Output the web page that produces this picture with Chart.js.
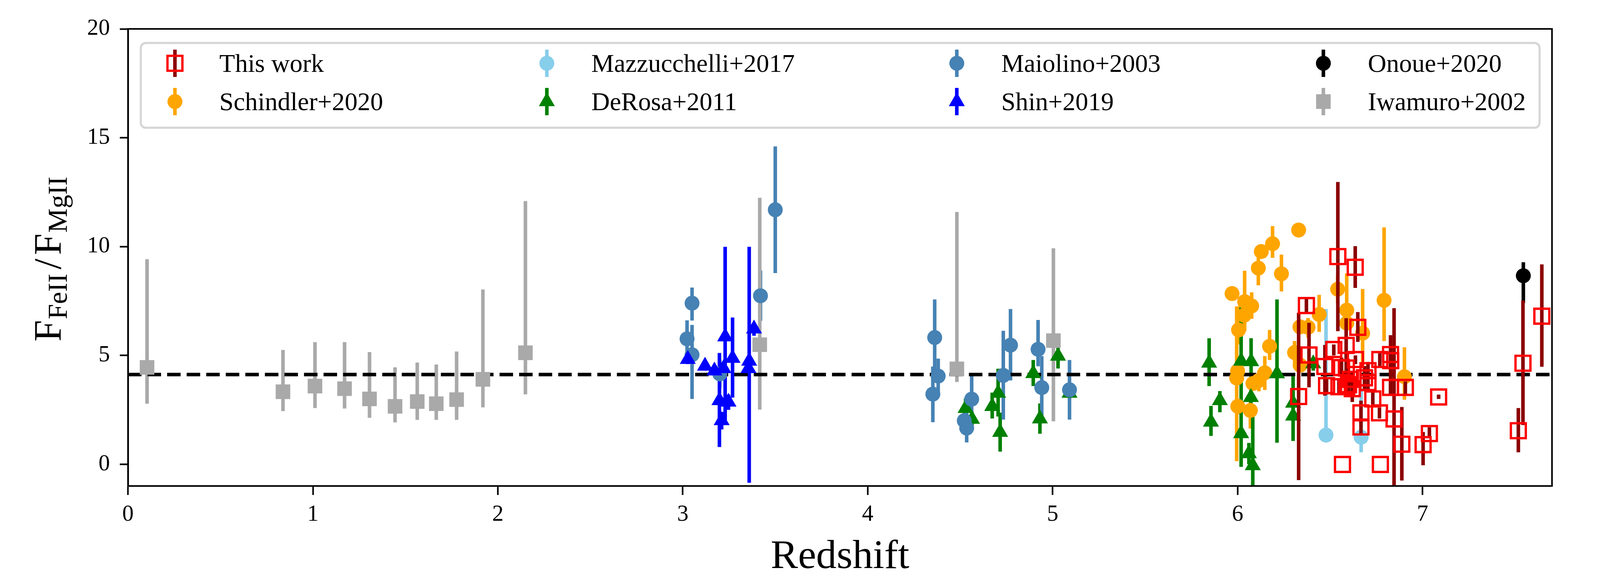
<!DOCTYPE html>
<html>
<head>
<meta charset="utf-8">
<script src="https://cdn.jsdelivr.net/npm/chart.js@4.4.1/dist/chart.umd.min.js"></script>
<style>
  html, body { margin: 0; padding: 0; background: #ffffff; overflow: hidden; }
  canvas { display: block; }
</style>
</head>
<body>
<canvas id="feChart"></canvas>
<script>
// ---- data (redshift, Fe/Mg ratio, lower / upper error bound) ----
const twZ = [6.330, 6.372, 6.386, 6.472, 6.481, 6.520, 6.542, 6.548, 6.562, 6.567, 6.587, 6.588, 6.590, 6.600, 6.610, 6.620, 6.636, 6.637, 6.650, 6.667, 6.667, 6.686, 6.705, 6.705, 6.731, 6.767, 6.769, 6.772, 6.827, 6.828, 6.827, 6.846, 6.888, 6.907, 7.003, 7.037, 7.087, 7.518, 7.543, 7.645];
const twRatio = [3.11, 7.29, 5.02, 4.49, 3.61, 5.27, 9.54, 3.56, 4.44, -0.01, 5.46, 4.42, 3.56, 3.65, 3.90, 3.47, 9.05, 4.81, 6.29, 2.36, 1.71, 3.97, 4.30, 3.75, 3.00, 2.36, 4.81, -0.01, 5.04, 4.76, 3.53, 2.08, 0.92, 3.53, 0.90, 1.41, 3.09, 1.54, 4.64, 6.80];
const twLow = [-0.73, 6.90, 3.53, 3.15, 3.20, 5.00, 6.11, 3.20, 4.00, -0.01, 3.24, 4.10, 3.30, 3.30, 3.60, 2.86, 8.10, 4.60, 5.62, 1.90, 1.38, 3.38, 3.90, 3.40, 2.72, 2.10, 4.50, -0.01, 3.24, 4.50, 3.20, -1.50, -0.75, 3.20, -0.05, 1.20, 3.00, 0.55, 1.80, 4.48];
const twHigh = [6.96, 7.60, 6.50, 5.48, 4.00, 5.50, 12.97, 3.90, 4.90, -0.01, 6.71, 4.70, 3.80, 4.00, 4.20, 4.07, 10.02, 5.00, 6.99, 2.92, 2.00, 4.51, 4.70, 4.10, 3.38, 2.60, 5.10, -0.01, 5.93, 5.00, 3.90, 7.17, 2.63, 3.80, 1.48, 1.70, 3.20, 2.58, 7.52, 9.18];

const scZ = [5.970, 6.038, 6.076, 6.035, 6.005, 6.128, 6.112, 6.189, 6.237, 6.330, 6.173, 6.308, 6.337, 6.381, 6.441, 6.338, 6.000, 5.995, 6.147, 6.083, 6.115, 6.001, 6.069, 6.541, 6.590, 6.590, 6.676, 6.792, 6.902];
const scRatio = [7.84, 7.47, 7.27, 6.84, 6.17, 9.77, 9.01, 10.13, 8.75, 10.76, 5.42, 5.13, 6.31, 6.29, 6.88, 4.55, 4.28, 3.96, 4.20, 3.71, 3.85, 2.66, 2.47, 8.04, 7.08, 6.48, 6.02, 7.53, 4.02];
const scLow = [7.60, 6.11, 6.68, 6.50, 5.50, 9.50, 8.22, 9.48, 7.94, 10.60, 4.79, 4.65, 6.00, 5.82, 6.08, 4.30, 4.00, 0.14, 3.41, 3.40, 3.35, 2.30, 1.64, 7.40, 6.38, 6.20, 4.53, 5.66, 2.96];
const scHigh = [8.10, 8.89, 7.90, 7.20, 7.25, 10.00, 9.48, 10.94, 9.63, 10.90, 6.17, 5.66, 6.60, 6.72, 7.78, 4.80, 4.60, 7.25, 4.97, 4.00, 4.30, 3.00, 3.00, 8.70, 8.77, 6.80, 8.05, 10.88, 5.37];

const mzZ = [6.478, 6.668];
const mzRatio = [1.34, 1.24];
const mzLow = [1.00, 0.55];
const mzHigh = [7.13, 3.42];

const drZ = [4.529, 4.564, 4.673, 4.705, 4.716, 4.895, 4.931, 5.029, 5.091, 5.846, 5.904, 5.856, 6.019, 6.073, 6.213, 6.072, 6.019, 6.061, 6.082, 6.300, 6.300, 6.409];
const drRatio = [2.57, 2.07, 2.66, 3.27, 1.47, 4.17, 2.09, 4.97, 3.27, 4.65, 2.93, 1.94, 4.74, 4.72, 4.16, 3.07, 1.41, 0.49, -0.06, 2.81, 2.22, 4.62];
const drLow = [2.20, 1.70, 2.10, 2.19, 0.58, 3.59, 1.40, 4.40, 3.00, 3.59, 2.39, 1.30, 3.00, 3.47, 0.99, 2.70, -0.12, 0.00, -1.50, 2.30, 1.07, 4.30];
const drHigh = [3.02, 2.40, 3.29, 4.39, 2.37, 4.79, 2.79, 5.59, 3.50, 5.79, 3.36, 2.68, 7.21, 5.79, 7.57, 3.50, 3.00, 0.98, 2.70, 3.30, 4.04, 4.90];

const maZ = [3.023, 3.050, 3.050, 3.200, 3.420, 3.500, 4.362, 4.381, 4.352, 4.562, 4.522, 4.535, 4.733, 4.772, 4.921, 4.941, 5.091];
const maRatio = [5.76, 7.40, 5.03, 4.15, 7.74, 11.69, 5.82, 4.05, 3.22, 2.99, 2.00, 1.66, 4.08, 5.47, 5.28, 3.52, 3.42];
const maLow = [4.90, 6.60, 3.00, 3.50, 6.59, 8.78, 4.20, 3.24, 1.93, 1.90, 1.50, 1.00, 2.05, 3.85, 4.50, 2.19, 2.05];
const maHigh = [6.61, 8.12, 6.40, 4.80, 8.90, 14.60, 7.57, 4.85, 4.49, 4.19, 2.50, 3.02, 6.13, 7.13, 6.63, 4.97, 4.79];

const shZ = [3.027, 3.120, 3.171, 3.229, 3.198, 3.210, 3.247, 3.269, 3.220, 3.359, 3.355, 3.385];
const shRatio = [4.82, 4.51, 4.29, 5.86, 2.93, 2.01, 2.86, 4.87, 4.40, 4.74, 4.40, 6.22];
const shLow = [4.60, 4.30, 4.10, 1.91, 0.79, 1.60, 2.50, 3.06, 4.10, -0.85, 4.20, 5.90];
const shHigh = [5.00, 4.70, 4.50, 9.99, 5.11, 2.40, 3.20, 6.74, 4.70, 9.99, 4.60, 6.50];

const onZ = [7.545];
const onRatio = [8.66];
const onLow = [7.40];
const onHigh = [9.28];

const iwZ = [0.103, 0.838, 1.011, 1.171, 1.306, 1.444, 1.564, 1.667, 1.777, 1.919, 2.149, 3.416, 4.482, 5.004];
const iwRatio = [4.45, 3.33, 3.59, 3.47, 3.00, 2.66, 2.88, 2.78, 2.97, 3.90, 5.12, 5.49, 4.38, 5.68];
const iwLow = [2.78, 2.44, 2.58, 2.56, 2.13, 1.92, 2.04, 2.04, 2.04, 2.61, 3.21, 2.51, 3.78, 1.97];
const iwHigh = [9.42, 5.25, 5.61, 5.61, 5.15, 4.45, 4.67, 4.58, 5.18, 8.03, 12.09, 12.24, 11.59, 9.92];

const meanRatio = [4.12];

const xTicks = [0, 1, 2, 3, 4, 5, 6, 7];
const yTicks = [0, 5, 10, 15, 20];

// legend is 4 columns x 2 rows, filled column by column
const legendOrder = ['This work', 'Schindler+2020', 'Mazzucchelli+2017', 'DeRosa+2011',
                     'Maiolino+2003', 'Shin+2019', 'Onoue+2020', 'Iwamuro+2002'];

const SERIF = '"Liberation Serif", "DejaVu Serif", serif';

// layout measured on the 4500x1500 figure, stretched to fill the window
const SX = (window.innerWidth || 4500) / 4500;
const SY = (window.innerHeight || 1500) / 1500;
const X = v => v * SX;   // horizontal distances, sizes, fonts
const Y = v => v * SY;   // vertical distances

const canvas = document.getElementById('feChart');
canvas.width = Math.floor(4500 * SX);
canvas.height = Math.floor(1500 * SY);

// marker shapes, sized like the matplotlib ones
const MARKERS = {
  circle: { pointStyle: 'circle', radius: 21 },
  square: { pointStyle: 'rect', radius: 29 },
  open: { pointStyle: 'rect', radius: 29.7, border: 6.5 },
  triangle: { pointStyle: 'triangle', radius: 26 }
};

function points(zs, rs) {
  return zs.map((z, i) => ({ x: z, y: rs[i] }));
}

function series(label, zs, rs, lo, hi, kind, color, barColor, onTop) {
  const m = MARKERS[kind];
  return {
    type: 'scatter',
    label: label,
    data: points(zs, rs),
    errLow: lo,
    errHigh: hi,
    errColor: barColor,
    barsOnTop: !!onTop,
    markerKind: kind,
    markerColor: color,
    pointStyle: m.pointStyle,
    pointRadius: X(m.radius),
    pointBorderWidth: m.border ? X(m.border) : 0,
    pointBackgroundColor: m.border ? 'rgba(0,0,0,0)' : color,
    pointBorderColor: color,
    backgroundColor: color,
    borderColor: color
  };
}

// same geometry as Chart.js uses for its point styles, for the legend keys
function drawKey(ctx, kind, color, x, y) {
  const m = MARKERS[kind];
  const r = X(m.radius);
  ctx.beginPath();
  if (kind === 'circle') {
    ctx.arc(x, y, r, 0, Math.PI * 2);
  } else if (kind === 'triangle') {
    for (let k = 0; k < 3; k++) {
      const a = k * 2 * Math.PI / 3;
      const vx = x + Math.sin(a) * r, vy = y - Math.cos(a) * r;
      if (k === 0) ctx.moveTo(vx, vy); else ctx.lineTo(vx, vy);
    }
    ctx.closePath();
  } else {
    const h = Math.SQRT1_2 * r;
    ctx.rect(x - h, y - h, 2 * h, 2 * h);
  }
  if (m.border) {
    ctx.lineWidth = X(m.border);
    ctx.strokeStyle = color;
    ctx.stroke();
  } else {
    ctx.fillStyle = color;
    ctx.fill();
  }
}

function drawBars(chart, ds) {
  const ctx = chart.ctx, xs = chart.scales.x, ys = chart.scales.y, a = chart.chartArea;
  ctx.save();
  ctx.beginPath();
  ctx.rect(a.left, a.top, a.right - a.left, a.bottom - a.top);
  ctx.clip();
  ctx.strokeStyle = ds.errColor;
  ctx.lineWidth = X(10);
  ctx.lineCap = 'butt';
  ds.data.forEach((p, i) => {
    if (ds.errLow[i] === ds.errHigh[i]) return;
    const x = xs.getPixelForValue(p.x);
    ctx.beginPath();
    ctx.moveTo(x, ys.getPixelForValue(ds.errLow[i]));
    ctx.lineTo(x, ys.getPixelForValue(ds.errHigh[i]));
    ctx.stroke();
  });
  ctx.restore();
}

const errorBars = {
  id: 'errorBars',
  beforeDatasetsDraw(chart) {
    // all bars except "This work" sit under every marker, like matplotlib's errorbar zorder
    const sets = chart.data.datasets;
    for (let i = sets.length - 1; i >= 0; i--) {
      if (sets[i].errLow && !sets[i].barsOnTop) drawBars(chart, sets[i]);
    }
  },
  beforeDatasetDraw(chart, args) {
    const ds = chart.data.datasets[args.index];
    if (ds.errLow && ds.barsOnTop) drawBars(chart, ds);
  }
};

const frameAndLabels = {
  id: 'frameAndLabels',
  afterDatasetsDraw(chart) {
    const ctx = chart.ctx, a = chart.chartArea;
    ctx.save();
    ctx.strokeStyle = '#000';
    ctx.lineWidth = X(4.5);
    ctx.strokeRect(a.left, a.top, a.right - a.left, a.bottom - a.top);
    ctx.restore();
  },
  afterDraw(chart) {
    const ctx = chart.ctx, a = chart.chartArea;

    // y label: F_FeII / F_MgII with subscripts
    const big = X(109) + 'px ' + SERIF, small = X(77) + 'px ' + SERIF;
    const parts = [
      { t: 'F', f: big, dy: 0, gap: 2 },
      { t: 'FeII', f: small, dy: 18, gap: 12 },
      { t: '/', f: big, dy: 0, gap: 10 },
      { t: 'F', f: big, dy: 0, gap: 2 },
      { t: 'MgII', f: small, dy: 18, gap: 0 }
    ];
    let total = 0;
    parts.forEach(p => { ctx.font = p.f; p.w = ctx.measureText(p.t).width; total += p.w + X(p.gap); });
    ctx.save();
    ctx.translate(X(170), (a.top + a.bottom) / 2 + Y(4));
    ctx.rotate(-Math.PI / 2);
    ctx.fillStyle = '#000';
    ctx.textBaseline = 'alphabetic';
    ctx.textAlign = 'left';
    let cx = -total / 2;
    parts.forEach(p => {
      ctx.font = p.f;
      ctx.fillText(p.t, cx, X(p.dy));
      cx += p.w + X(p.gap);
    });
    ctx.restore();

    // legend box
    const box = { left: 396, top: 110, right: 4330, bottom: 327 };
    const colMarker = [492, 1538, 2691, 3722];
    const colText = [617, 1663, 2816, 3847];
    const rowY = [162, 260];
    ctx.save();
    ctx.beginPath();
    ctx.roundRect(X(box.left), Y(box.top), X(box.right - box.left), Y(box.bottom - box.top), X(14));
    ctx.fillStyle = 'rgba(255,255,255,0.8)';
    ctx.fill();
    ctx.lineWidth = X(6);
    ctx.strokeStyle = '#d6d6d6';
    ctx.stroke();
    ctx.font = X(72) + 'px ' + SERIF;
    ctx.textBaseline = 'alphabetic';
    ctx.textAlign = 'left';
    legendOrder.forEach((name, k) => {
      const ds = chart.data.datasets.find(d => d.label === name);
      const col = Math.floor(k / 2), row = k % 2;
      const mx = X(colMarker[col]), my = Y(rowY[row]);
      ctx.strokeStyle = ds.errColor;
      ctx.lineWidth = X(10);
      ctx.beginPath();
      ctx.moveTo(mx, my - Y(35));
      ctx.lineTo(mx, my + Y(35));
      ctx.stroke();
      drawKey(ctx, ds.markerKind, ds.markerColor, mx, my);
      ctx.fillStyle = '#000';
      ctx.fillText(name, X(colText[col]), my + X(24));
    });
    ctx.restore();
  }
};

const datasets = [
  series('This work', twZ, twRatio, twLow, twHigh, 'open', '#ff0000', '#8b0000', true),
  series('Iwamuro+2002', iwZ, iwRatio, iwLow, iwHigh, 'square', '#a9a9a9', '#a9a9a9'),
  series('Onoue+2020', onZ, onRatio, onLow, onHigh, 'circle', '#000000', '#000000'),
  series('Shin+2019', shZ, shRatio, shLow, shHigh, 'triangle', '#0000ff', '#0000ff'),
  series('Maiolino+2003', maZ, maRatio, maLow, maHigh, 'circle', '#4682b4', '#4682b4'),
  series('DeRosa+2011', drZ, drRatio, drLow, drHigh, 'triangle', '#008000', '#008000'),
  series('Mazzucchelli+2017', mzZ, mzRatio, mzLow, mzHigh, 'circle', '#87ceeb', '#87ceeb'),
  series('Schindler+2020', scZ, scRatio, scLow, scHigh, 'circle', '#ffa500', '#ffa500'),
  {
    type: 'line',
    label: 'mean',
    data: [{ x: 0, y: meanRatio[0] }, { x: 7.7, y: meanRatio[0] }],
    borderColor: '#000000',
    borderWidth: X(10),
    borderDash: [X(38), X(17)],
    pointRadius: 0,
    fill: false
  }
];

const tickFont = { family: SERIF, size: X(64) };
const axisBorder = { display: true, color: '#000', width: X(4.5) };

new Chart(canvas.getContext('2d'), {
  type: 'scatter',
  data: { datasets: datasets },
  plugins: [errorBars, frameAndLabels],
  options: {
    responsive: false,
    animation: false,
    layout: { padding: { left: 0, top: Y(74), right: X(135), bottom: 0 } },
    plugins: {
      legend: { display: false },
      tooltip: { enabled: false }
    },
    scales: {
      x: {
        type: 'linear',
        min: 0,
        max: 7.7,
        afterBuildTicks: axis => { axis.ticks = xTicks.map(v => ({ value: v })); },
        afterFit: axis => { axis.height = Y(256); },
        grid: { drawOnChartArea: false, drawTicks: true, tickLength: Y(23), tickWidth: X(4.5), tickColor: '#000' },
        border: axisBorder,
        ticks: { color: '#000', font: tickFont, padding: Y(16), maxRotation: 0 },
        title: { display: true, text: 'Redshift', color: '#000', font: { family: SERIF, size: X(115) }, padding: { top: 0, bottom: Y(11) } }
      },
      y: {
        type: 'linear',
        min: -1,
        max: 20,
        afterBuildTicks: axis => { axis.ticks = yTicks.map(v => ({ value: v })); },
        afterFit: axis => { axis.width = X(360); },
        grid: { drawOnChartArea: false, drawTicks: true, tickLength: X(23), tickWidth: X(4.5), tickColor: '#000' },
        border: axisBorder,
        ticks: { color: '#000', font: tickFont, padding: X(28) },
        title: { display: false }
      }
    }
  }
});
</script>
</body>
</html>
